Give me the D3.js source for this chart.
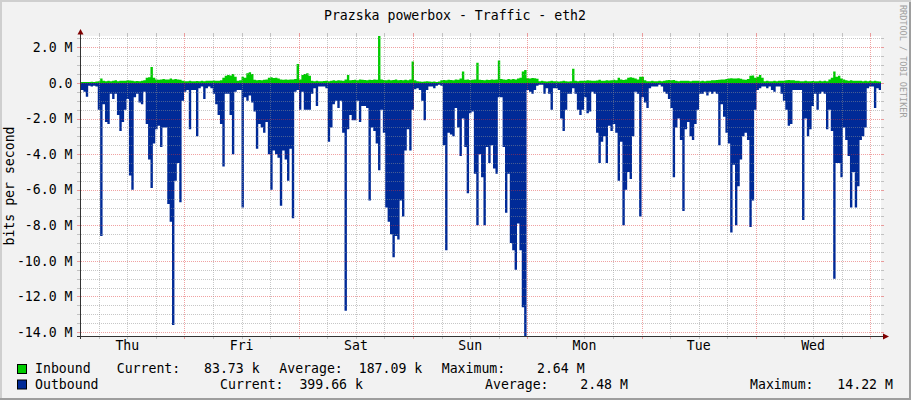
<!DOCTYPE html>
<html><head><meta charset="utf-8">
<script src="https://cdn.jsdelivr.net/npm/d3@7"></script>
<style>
html,body{margin:0;padding:0;background:#fff;}
svg{display:block;}
text{font-family:"DejaVu Sans Mono",monospace;white-space:pre;}
</style></head><body>
<svg id="chart" width="911" height="400"></svg>
<script>
// ---------------- data ----------------
const title = "Prazska powerbox - Traffic - eth2";
const yAxisTitle = "bits per second";
const watermark = "RRDTOOL / TOBI OETIKER";
const startTime = Date.UTC(2024, 0, 4, 2, 16);   // Thursday 02:16
const spanDays = 7;
const stepSeconds = 1811;                         // sample spacing
const seriesNames = ["Inbound", "Outbound"];
const seriesColors = ["#00CC00", "#002A97"];

// Inbound, Mbit/s (drawn above zero)
const inbound = [
0.06,0.05,0.06,0.05,0.07,0.06,0.08,0.10,0.25,0.12,
0.10,0.12,0.10,0.12,0.15,0.10,0.13,0.12,0.13,0.15,
0.14,0.12,0.10,0.11,0.10,0.12,0.15,0.30,0.32,0.90,
0.30,0.20,0.18,0.20,0.22,0.20,0.20,0.25,0.20,0.22,
0.20,0.18,0.12,0.10,0.10,0.12,0.10,0.10,0.11,0.10,
0.12,0.10,0.12,0.13,0.12,0.14,0.12,0.13,0.15,0.30,
0.40,0.45,0.42,0.50,0.35,0.12,0.15,0.35,0.30,0.55,
0.60,0.50,0.18,0.15,0.17,0.15,0.18,0.20,0.30,0.32,
0.28,0.30,0.25,0.20,0.18,0.20,0.18,0.20,0.20,0.22,
1.07,0.20,0.45,0.50,0.55,0.40,0.12,0.10,0.12,0.10,
0.10,0.11,0.12,0.10,0.13,0.15,0.13,0.15,0.14,0.13,
0.20,0.45,0.15,0.17,0.18,0.16,0.20,0.18,0.17,0.15,
0.18,0.17,0.20,0.18,2.64,0.20,0.17,0.15,0.18,0.16,
0.17,0.20,0.15,0.17,0.15,0.18,0.16,0.20,1.20,0.15,
0.10,0.08,0.07,0.08,0.10,0.08,0.07,0.08,0.06,0.08,
0.15,0.17,0.15,0.18,0.17,0.16,0.20,0.18,0.25,0.64,
0.18,0.20,0.17,0.18,0.20,1.14,0.18,0.17,0.15,0.18,
0.17,0.20,0.18,0.20,1.26,0.22,0.20,0.18,0.22,0.20,
0.22,0.20,0.25,0.30,0.64,0.73,0.26,0.25,0.28,0.26,
0.24,0.10,0.12,0.10,0.08,0.10,0.12,0.10,0.10,0.08,
0.10,0.12,0.10,0.08,0.10,0.80,0.12,0.10,0.13,0.12,
0.13,0.15,0.14,0.13,0.12,0.14,0.18,0.13,0.12,0.15,
0.14,0.15,0.18,0.16,0.30,0.20,0.17,0.20,0.30,0.32,
0.30,0.25,0.20,0.35,0.35,0.15,0.10,0.10,0.12,0.10,
0.10,0.12,0.10,0.12,0.15,0.17,0.15,0.17,0.12,0.10,
0.12,0.12,0.13,0.12,0.10,0.12,0.12,0.12,0.10,0.12,
0.10,0.12,0.12,0.15,0.15,0.17,0.18,0.20,0.20,0.22,
0.25,0.27,0.25,0.25,0.26,0.24,0.20,0.18,0.22,0.40,
0.42,0.30,0.35,0.45,0.30,0.10,0.12,0.10,0.10,0.12,
0.10,0.12,0.12,0.13,0.15,0.17,0.15,0.15,0.13,0.12,
0.10,0.10,0.12,0.10,0.10,0.11,0.10,0.10,0.12,0.10,
0.12,0.10,0.20,0.30,0.64,0.35,0.40,0.25,0.20,0.15,
0.12,0.15,0.12,0.13,0.12,0.12,0.10,0.12,0.10,0.12,
0.10,0.12,0.10,0.084
];

// Outbound, Mbit/s (drawn below zero)
const outbound = [
0.4,0.5,0.77,0.15,0.2,0.15,0.2,1.5,8.6,1.2,
2.2,2.3,0.6,0.9,0.6,1.8,2.7,2.2,1.5,0.9,
5.2,6.0,0.8,0.6,1.1,1.2,0.5,2.3,4.3,5.9,
3.4,2.6,2.4,3.6,2.5,2.5,6.8,7.8,13.6,5.5,
4.5,6.7,1.0,0.5,0.4,2.6,0.4,0.4,3.0,0.3,
0.2,0.9,0.3,0.2,0.3,0.6,1.2,1.8,2.3,4.7,
0.6,0.6,1.8,4.0,0.5,0.4,0.4,7.0,0.8,1.0,
0.7,1.1,1.6,3.7,2.3,2.5,2.8,2.2,4.0,6.0,
3.8,4.0,4.2,6.9,3.8,4.3,5.5,3.7,7.6,0.5,
0.4,1.5,0.5,1.5,1.5,1.5,0.6,0.3,1.3,0.2,
0.2,0.2,0.3,3.3,2.5,1.2,1.0,1.4,1.0,2.8,
12.8,2.6,1.8,2.1,2.1,1.0,2.2,1.3,1.3,1.4,
6.6,2.5,2.7,3.4,4.9,1.5,2.8,7.0,7.8,8.5,
9.8,8.6,8.8,6.6,7.5,3.8,2.6,3.8,1.5,0.35,
0.3,0.4,1.0,2.1,0.4,0.2,0.2,0.3,0.15,0.1,
0.15,3.5,9.4,2.8,2.9,3.0,1.4,2.5,4.1,2.0,
3.6,6.2,1.7,1.6,5.1,8.0,4.0,5.3,8.0,3.6,
4.5,3.5,4.8,5.1,0.8,0.8,3.6,7.3,5.1,9.0,
9.4,10.5,7.9,9.4,12.6,14.22,0.4,0.5,0.6,0.4,
0.15,0.1,0.1,0.6,0.3,0.6,1.5,0.3,0.3,0.4,
2.0,2.7,1.5,0.6,0.6,0.3,0.6,1.5,1.8,1.5,
0.8,1.7,1.6,0.5,0.6,2.8,4.5,3.3,3.0,4.5,
2.4,2.7,2.3,2.8,5.5,3.3,8.0,6.0,5.0,5.4,
3.0,0.5,0.6,7.5,0.8,1.1,1.4,0.3,0.2,0.2,
0.2,0.1,0.2,0.5,0.6,0.9,1.4,5.3,2.5,2.0,
3.2,7.2,2.6,2.2,3.0,3.2,2.3,1.5,0.6,0.6,
0.5,0.7,0.5,0.6,0.5,0.6,3.5,1.2,1.9,2.8,
3.4,8.4,4.6,8.0,5.8,4.3,3.0,2.8,3.2,8.1,
6.6,1.5,0.4,0.3,0.2,0.2,0.3,0.2,0.4,0.5,
0.2,0.2,0.6,1.0,1.5,2.4,2.3,0.4,0.4,0.4,
0.4,7.7,2.0,3.0,2.6,1.3,0.6,1.5,0.6,0.5,
0.6,2.6,1.5,2.7,11.0,4.5,4.5,5.3,2.5,3.2,
4.1,7.0,5.0,7.0,5.8,3.2,3.0,2.5,0.3,0.2,
0.2,1.4,0.3,0.4
];

const yMajorTicks = [2, 0, -2, -4, -6, -8, -10, -12, -14];
const yTickLabels = ["2.0 M", "0.0", "-2.0 M", "-4.0 M", "-6.0 M", "-8.0 M", "-10.0 M", "-12.0 M", "-14.0 M"];
const yMinorStep = 0.5;
const inboundStats = ["Current:   83.73 k", "Average:  187.09 k", "Maximum:    2.64 M"];
const outboundStats = ["Current:  399.66 k", "Average:    2.48 M", "Maximum:   14.22 M"];

// ---------------- layout ----------------
const W = 911, H = 400;
const L = 81, R = 881, T = 36, B = 336;
const FONT = 13.2;

const svg = d3.select("#chart");
svg.append("rect").attr("width", W).attr("height", H).attr("fill", "#F2F2F2");
svg.append("path").attr("d", "M0,0H911V2H2V400H0Z").attr("fill", "#CFCFCF");
svg.append("path").attr("d", "M911,0V400H0V398H909V2H911Z").attr("fill", "#9E9E9E");

const t0 = new Date(startTime), t1 = new Date(startTime + spanDays * 864e5);
const x = d3.scaleUtc().domain([t0, t1]).range([L, R]);
const y = d3.scaleLinear().domain([-d3.max(outbound), d3.max(inbound)]).range([B, T]);

// canvas
svg.append("rect").attr("x", L).attr("y", T).attr("width", R - L).attr("height", B - T).attr("fill", "#FFFFFF");
svg.append("clipPath").attr("id", "clip").append("rect")
  .attr("x", L).attr("y", T - 0.5).attr("width", R - L).attr("height", B - T + 0.5);

function pts(arr) {
  const p = arr.map((v, i) => ({ t: new Date(startTime + i * stepSeconds * 1000), v }));
  p.push({ t: new Date(startTime + arr.length * stepSeconds * 1000), v: arr[arr.length - 1] });
  return p;
}
const g = svg.append("g").attr("clip-path", "url(#clip)");
g.append("path").datum(pts(outbound))
  .attr("fill", seriesColors[1])
  .attr("d", d3.area().curve(d3.curveStepAfter).x(d => x(d.t)).y0(y(0)).y1(d => y(-d.v)));
g.append("path").datum(pts(inbound))
  .attr("fill", seriesColors[0])
  .attr("d", d3.area().curve(d3.curveStepAfter).x(d => x(d.t)).y0(y(0)).y1(d => y(d.v)));

// grid (on top of the data, like rrdtool)
const minorCol = "rgba(143,143,143,0.5)", majorCol = "rgba(222,48,48,0.45)";
const grid = svg.append("g");
const yMinor = d3.range(Math.ceil(y.domain()[0] / yMinorStep), Math.floor(y.domain()[1] / yMinorStep) + 1)
  .map(k => k * yMinorStep).filter(v => !yMajorTicks.includes(v));
function hLine(v, col) {
  const yy = Math.round(y(v)) + 0.5;
  grid.append("line").attr("x1", L).attr("x2", R).attr("y1", yy).attr("y2", yy)
    .attr("stroke", col).attr("stroke-dasharray", "1,1");
  grid.append("line").attr("x1", L - 4).attr("x2", L).attr("y1", yy).attr("y2", yy).attr("stroke", col);
  grid.append("line").attr("x1", R).attr("x2", R + 3).attr("y1", yy).attr("y2", yy).attr("stroke", col);
}
function vLine(t, col) {
  const xx = Math.round(x(t)) + 0.5;
  grid.append("line").attr("x1", xx).attr("x2", xx).attr("y1", T).attr("y2", B)
    .attr("stroke", col).attr("stroke-dasharray", "1,1");
  grid.append("line").attr("x1", xx).attr("x2", xx).attr("y1", T - 3).attr("y2", T).attr("stroke", col);
  grid.append("line").attr("x1", xx).attr("x2", xx).attr("y1", B).attr("y2", B + 3).attr("stroke", col);
}
yMinor.forEach(v => hLine(v, minorCol));
yMajorTicks.forEach(v => hLine(v, majorCol));
const sixH = d3.utcHour.every(6).range(t0, t1);
sixH.filter(t => t.getUTCHours() !== 0).forEach(t => vLine(t, minorCol));
d3.utcDay.range(t0, t1).forEach(t => vLine(t, majorCol));

// axes
const axisCol = "#333333", arrowCol = "#7F0000";
svg.append("line").attr("x1", L - 0.5).attr("x2", L - 0.5).attr("y1", T - 4).attr("y2", B + 3).attr("stroke", axisCol);
svg.append("line").attr("x1", L - 4).attr("x2", R + 2).attr("y1", B + 0.5).attr("y2", B + 0.5).attr("stroke", axisCol);
svg.append("path").attr("d", `M${L - 0.5},${T - 7}L${L - 3.5},${T - 1.5}L${L + 2.5},${T - 1.5}Z`).attr("fill", arrowCol);
svg.append("path").attr("d", `M${R + 8},${B + 0.5}L${R + 2},${B - 2.5}L${R + 2},${B + 3.5}Z`).attr("fill", arrowCol);

// y tick labels
svg.append("g").selectAll("text").data(yMajorTicks).join("text")
  .attr("x", 72.5).attr("y", d => y(d)).attr("dy", "0.36em")
  .attr("text-anchor", "end").attr("font-size", FONT).attr("fill", "#000")
  .text((d, i) => yTickLabels[i]);

// x day labels at noon
const noons = d3.utcDay.range(d3.utcDay.floor(t0), t1).map(d => d3.utcHour.offset(d, 12))
  .filter(d => d >= t0 && d <= t1);
svg.append("g").selectAll("text").data(noons).join("text")
  .attr("x", d => x(d)).attr("y", 350).attr("text-anchor", "middle")
  .attr("font-size", FONT).attr("fill", "#000")
  .text(d3.utcFormat("%a"));

// title
svg.append("text").attr("x", 455).attr("y", 19.5).attr("text-anchor", "middle")
  .attr("font-size", FONT).attr("fill", "#000").text(title);

// y axis title
svg.append("text").attr("transform", "translate(14,186) rotate(-90)")
  .attr("text-anchor", "middle").attr("font-size", FONT).attr("fill", "#000").text(yAxisTitle);

// watermark
svg.append("text").attr("transform", "translate(899.5,5) rotate(90)")
  .attr("text-anchor", "start").attr("font-size", 8.5).attr("fill", "#A0A0A0").text(watermark);

// legend
const legendRows = [
  { name: seriesNames[0], color: seriesColors[0], stats: inboundStats, y: 373, xs: [116.7, 279.3, 441.7] },
  { name: seriesNames[1], color: seriesColors[1], stats: outboundStats, y: 388.5, xs: [220, 485, 750] }
];
legendRows.forEach(r => {
  svg.append("rect").attr("x", 17.5).attr("y", r.y - 8.5).attr("width", 9).attr("height", 9)
    .attr("fill", r.color).attr("stroke", "#000").attr("stroke-width", 1);
  svg.append("text").attr("x", 35).attr("y", r.y).attr("font-size", FONT).attr("fill", "#000").text(r.name);
  r.stats.forEach((s, i) => {
    svg.append("text").attr("x", r.xs[i]).attr("y", r.y).attr("xml:space", "preserve")
      .attr("font-size", FONT).attr("fill", "#000").text(s);
  });
});
</script>
</body></html>
